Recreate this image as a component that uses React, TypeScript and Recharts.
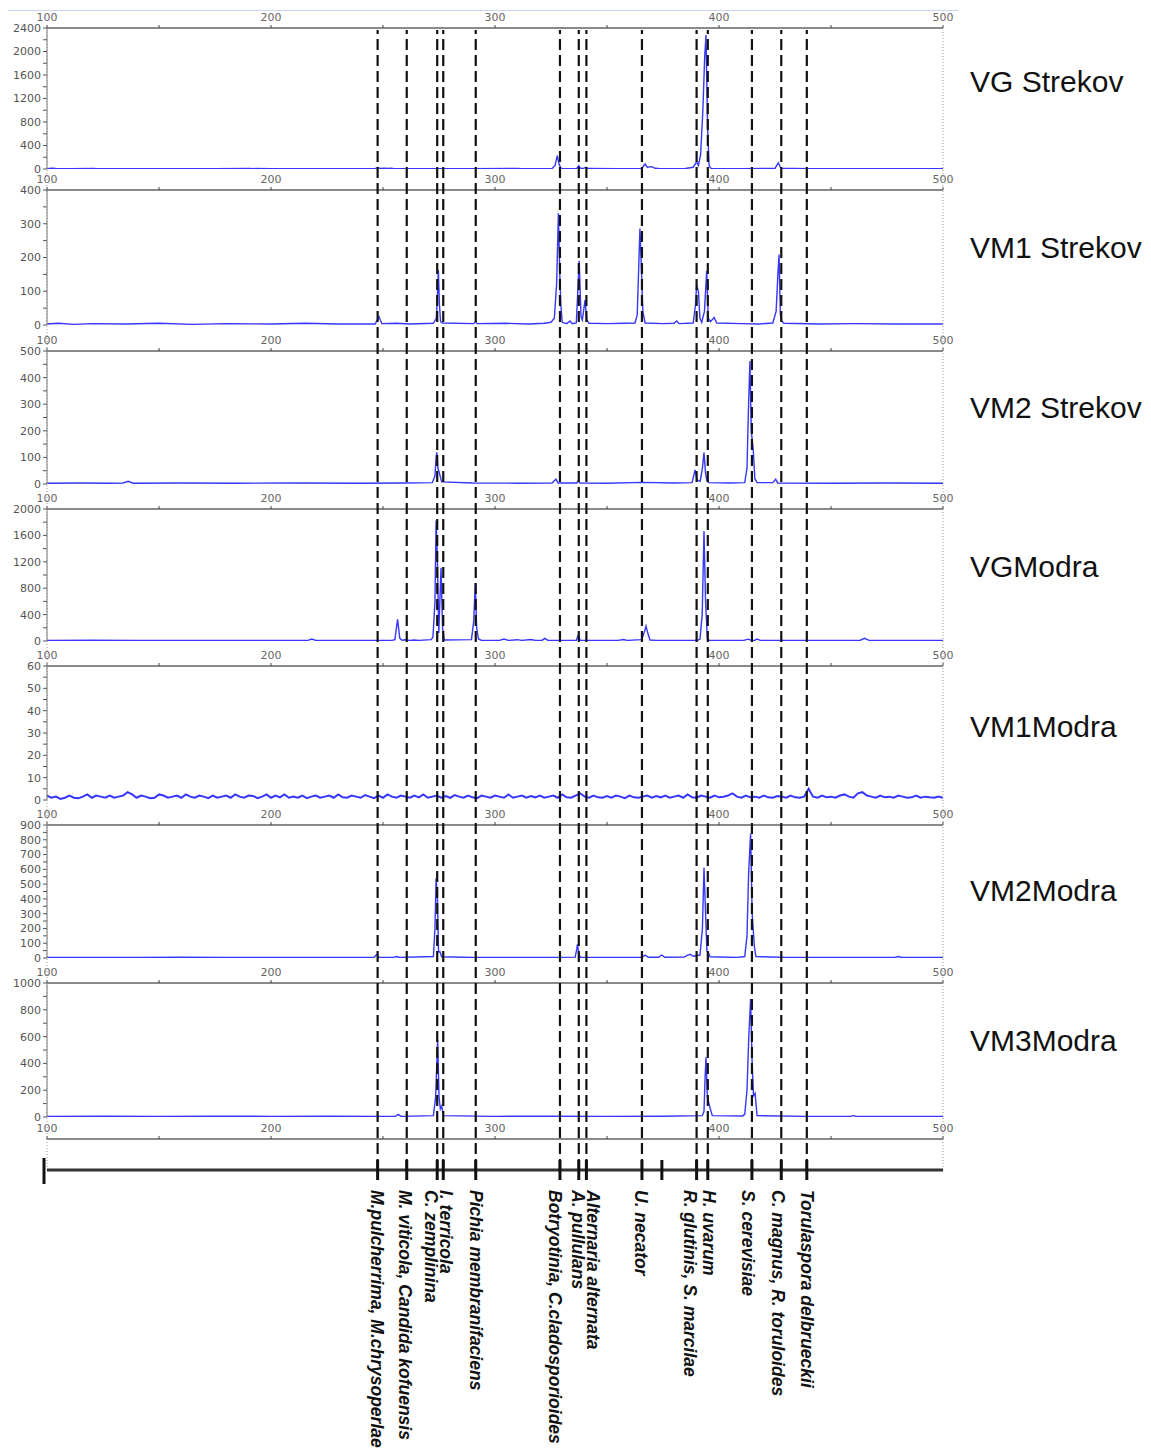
import React from 'react';
import { LineChart, Line, XAxis, YAxis, ReferenceLine } from 'recharts';

// ---------- data ----------
const bpDomain: [number, number] = [100, 500];
const bpTicks = [100, 150, 200, 250, 300, 350, 400, 450, 500];
const bpLabelTicks = [100, 200, 300, 400, 500];

const speciesBp = [247.6, 260.6, 274.2, 276.9, 291.4, 329.0, 337.4, 340.8, 365.6, 390.0, 395.0, 414.7, 427.8, 439.2];
const speciesNames = [
  'M.pulcherrima, M.chrysoperlae',
  'M. viticola, Candida kofuensis',
  'C. zemplinina',
  'I. terricola',
  'Pichia membranifaciens',
  'Botryotinia, C.cladosporioides',
  'A. pullulans',
  'Alternaria alternata',
  'U. necator',
  'R. glutinis, S. marcilae',
  'H. uvarum',
  'S. cerevisiae',
  'C. magnus, R. toruloides',
  'Torulaspora delbrueckii',
];
const extraMarkerBp = [100, 374.5];

const vgStrekov: [number, number][] = [
  [100, 6], [102, 14], [104, 8], [110, 6], [121, 10], [122, 5], [150, 6], [175, 5], [190, 8], [200, 5], [225, 6],
  [246.5, 6], [247.6, 24], [248.8, 8], [250.5, 14], [252, 8], [253.5, 14], [255, 6], [270, 5], [290, 6], [310, 10], [312, 5],
  [325.5, 8], [326.8, 60], [327.8, 226], [328.6, 80], [329.5, 10], [331, 6], [336.5, 8], [337.4, 56], [338.2, 12], [339.5, 10],
  [340.6, 30], [341.5, 8], [355, 6], [365.5, 8], [367, 85], [368, 30], [370, 40], [371.5, 12], [374, 6], [385, 8], [388.5, 30],
  [389.5, 90], [390, 124], [390.8, 60], [391.8, 250], [392.8, 1000], [393.6, 1900], [394.2, 2280], [394.9, 700], [395.6, 50],
  [396.5, 8], [410, 6], [425, 10], [426.5, 107], [427.6, 12], [440, 6], [470, 5], [500, 5],
];

const vm1Strekov: [number, number][] = [
  [100, 3], [105, 5], [112, 2], [120, 4], [135, 3], [150, 5], [165, 2], [180, 4], [200, 3], [215, 5], [230, 3], [246.5, 3],
  [248.2, 25], [249.5, 4], [256, 5], [262, 3], [272.5, 5], [273.8, 20], [274.4, 100], [274.7, 163], [275.2, 60], [275.7, 10],
  [276.5, 6], [290.5, 4], [291.3, 10], [292, 4], [305, 5], [315, 3], [322, 5], [325, 8], [326.5, 20], [327.5, 120], [328.3, 331],
  [328.9, 154], [329.4, 60], [330, 8], [332, 4], [333.5, 12], [334.5, 4], [336.3, 6], [337.6, 190], [338.4, 25], [339, 15],
  [340.2, 74], [341, 15], [342, 5], [350, 4], [358, 5], [362.5, 6], [363.5, 30], [364.2, 180], [364.7, 286], [365.3, 178],
  [366, 40], [367, 6], [375, 4], [380, 5], [381.1, 12], [382.2, 4], [388.5, 6], [389.5, 60], [390, 118], [390.8, 100],
  [391.5, 20], [392.3, 8], [393.5, 40], [394.5, 160], [395.2, 20], [396.2, 10], [397.8, 22], [399, 6], [410, 4], [418, 3],
  [424, 6], [425.5, 40], [426.3, 150], [426.8, 209], [427.4, 30], [428, 12], [429, 5], [445, 3], [460, 4], [480, 3], [500, 3],
];

const vm2Strekov: [number, number][] = [
  [100, 3], [115, 4], [128, 3], [134, 4], [136.2, 10], [138.5, 3], [160, 4], [185, 3], [210, 4], [240, 3], [260, 4],
  [272, 5], [273.2, 30], [273.7, 100], [274, 119], [274.5, 60], [275.4, 34], [276.2, 8], [290, 4], [310, 3], [325.5, 4],
  [327.2, 18], [328.2, 4], [336.5, 4], [337.2, 12], [338, 4], [350, 3], [366, 6], [380, 4], [388, 5], [389.3, 53], [390.2, 15],
  [391.6, 10], [392.6, 60], [393.3, 118], [394, 40], [394.6, 12], [395.5, 5], [405, 4], [411.5, 5], [412.5, 60], [413.2, 300],
  [413.8, 462], [414.4, 200], [415.3, 128], [416, 20], [417, 5], [424, 5], [425.3, 18], [426.2, 4], [450, 3], [475, 4], [500, 3],
];

const vgModra: [number, number][] = [
  [100, 10], [120, 12], [140, 8], [160, 10], [180, 8], [200, 10], [216.5, 10], [218.2, 30], [220, 10], [240, 8], [254, 10],
  [255.3, 20], [256.5, 329], [257.5, 40], [258.5, 12], [260, 18], [262, 10], [264, 16], [266, 10], [271.5, 20], [272.3, 60],
  [273.2, 600], [273.7, 1823], [274.3, 1200], [274.9, 120], [275.9, 1111], [276.6, 200], [277.3, 15], [289.5, 20], [290.5, 300],
  [291.2, 874], [291.8, 200], [292.6, 30], [294, 10], [302, 10], [304, 30], [306, 10], [310, 20], [312, 10], [316, 22], [318, 10],
  [321, 12], [322.3, 40], [323.6, 10], [336.3, 10], [337.2, 90], [338, 12], [355, 10], [357.3, 22], [359, 10], [365.5, 20],
  [366.8, 150], [367.4, 227], [368.2, 120], [369.2, 15], [372, 10], [390.5, 12], [391.5, 30], [392.5, 400], [393.3, 1667],
  [394, 600], [394.8, 40], [395.6, 10], [411, 10], [413, 28], [414.5, 10], [416, 12], [417, 30], [418.5, 10], [440, 10],
  [463, 12], [465, 40], [467, 10], [500, 10],
];

// VM1Modra: hand-read noise, sampled every 2 bp from 100 bp
const vm1ModraStartBp = 100;
const vm1ModraStepBp = 2;
const vm1ModraNoise = [
  2, 1, 1.5, 0.5, 1, 2, 1, 0.8, 1.5, 2.5, 1, 2, 1.5, 1, 2, 1, 1.5, 2, 3.5, 2.5,
  1, 2, 1.5, 0.8, 1, 2.5, 2, 1, 1.5, 2, 1, 2.5, 1.5, 1, 2, 1.5, 0.8, 2, 1, 1.5,
  2, 1, 2.5, 1.5, 1, 2, 1.8, 0.8, 1.5, 2.5, 1, 2, 1.2, 2.5, 1, 1.5, 1, 2, 0.8, 1.5,
  2, 1, 1.5, 2, 1, 2.5, 1.2, 1, 2, 1.5, 1, 2.2, 1.5, 0.8, 2, 1, 2.5, 1.5, 1, 2,
  1.5, 1, 2, 1.2, 2.5, 1, 1.5, 2, 1, 1.8, 1, 2.2, 1.5, 1, 2, 1.2, 0.8, 2, 1.5, 1,
  2, 1.5, 1, 2.5, 1, 1.5, 2, 1, 1.8, 1.2, 2, 1, 1.5, 2, 1, 2.5, 1.2, 1, 2, 3,
  1.5, 1, 2, 1.2, 1, 1.8, 1, 2, 1.5, 0.8, 2, 1.2, 1, 1.5, 2, 1, 1.8, 1.2, 2, 1,
  1.5, 2, 1, 2.5, 1.2, 1, 2, 1.5, 1, 2, 1.2, 1.5, 2, 3, 1.5, 1, 2, 1.2, 1.5, 1,
  2, 1.2, 1, 1.8, 1.5, 1, 2, 1.2, 1, 1.5, 5, 1.5, 1, 2, 1.2, 1.5, 1, 2, 2.5, 1.5,
  1, 3, 3.5, 2, 1.5, 1, 2, 1.2, 1.5, 1, 2, 1.5, 1, 1.2, 2, 1, 1.5, 1.2, 1, 1.5,
  1,
];

const vm2Modra: [number, number][] = [
  [100, 3], [120, 4], [140, 3], [160, 5], [180, 3], [200, 4], [220, 3], [240, 4], [246, 4], [247.2, 25], [248.2, 4],
  [254.5, 4], [256.1, 10], [257.5, 4], [272.5, 10], [273.2, 200], [273.7, 539], [274.3, 400], [274.8, 40], [275.4, 43],
  [276.2, 8], [290, 4], [310, 3], [325, 4], [335.8, 6], [336.5, 60], [336.8, 93], [337.5, 20], [338.2, 5], [360, 4],
  [365.5, 5], [367, 20], [368.5, 5], [373, 5], [374.4, 20], [375.8, 5], [384.5, 6], [386, 20], [387.1, 25], [388.5, 12],
  [391.5, 20], [392.6, 200], [393.3, 611], [394, 300], [394.6, 50], [395.2, 40], [396, 8], [408, 4], [411.5, 10], [412.5, 150],
  [413.2, 560], [414.1, 843], [414.8, 300], [415.8, 76], [416.5, 10], [430, 4], [460, 3], [478.5, 4], [480, 10], [481.5, 4],
  [500, 3],
];

const vm3Modra: [number, number][] = [
  [100, 5], [125, 6], [150, 4], [175, 6], [200, 5], [225, 6], [250, 5], [255.5, 5], [256.8, 20], [258, 5], [272.5, 10],
  [273.5, 150], [274.4, 575], [275, 150], [275.6, 60], [276.2, 82], [277, 10], [300, 5], [325, 6], [350, 5], [375, 6],
  [392.5, 10], [393.3, 40], [393.8, 300], [394.2, 445], [394.8, 150], [396, 67], [397, 10], [410.5, 8], [411.5, 20],
  [412.5, 200], [413.3, 600], [414.1, 880], [414.8, 400], [415.4, 160], [416.1, 177], [417, 10], [440, 5], [458.5, 5],
  [460, 10], [461.5, 5], [500, 5],
];

// ---------- layout ----------
const W = 1151;
const H = 1454;
const PLOT_LEFT = 47;
const PLOT_RIGHT = 943;
const AXIS_H = 20;
const MARKER_AXIS_Y = 1170;
const LINE_BLUE = '#3636ff';
const TICK_FONT = 'DejaVu Sans, Verdana, sans-serif';
const NAME_FONT = 'Liberation Sans, Arial, sans-serif';

const labelNudge = [-1, -2, -6, 3, 0, -5, -1, 7, -1, -7, 1, -4, -3, 0];

type PanelSpec = {
  name: string;
  nameY: number;
  top: number;
  bottom: number;
  yMax: number;
  yStep: number;
  yLabelStep: number;
  points: [number, number][];
  width?: number;
};

const toRows = (pts: [number, number][]) => pts.map(([bp, v]) => ({ bp, v }));

const vm1ModraPoints: [number, number][] = vm1ModraNoise.map((v, i) => [vm1ModraStartBp + i * vm1ModraStepBp, v]);

const panels: PanelSpec[] = [
  { name: 'VG Strekov', nameY: 82, top: 28, bottom: 169, yMax: 2400, yStep: 200, yLabelStep: 400, points: vgStrekov },
  { name: 'VM1 Strekov', nameY: 248, top: 190, bottom: 325, yMax: 400, yStep: 50, yLabelStep: 100, points: vm1Strekov },
  { name: 'VM2 Strekov', nameY: 408, top: 351, bottom: 484, yMax: 500, yStep: 50, yLabelStep: 100, points: vm2Strekov },
  { name: 'VGModra', nameY: 567, top: 509, bottom: 641, yMax: 2000, yStep: 200, yLabelStep: 400, points: vgModra },
  { name: 'VM1Modra', nameY: 727, top: 666, bottom: 800, yMax: 60, yStep: 5, yLabelStep: 10, points: vm1ModraPoints, width: 2 },
  { name: 'VM2Modra', nameY: 891, top: 825, bottom: 958, yMax: 900, yStep: 50, yLabelStep: 100, points: vm2Modra },
  { name: 'VM3Modra', nameY: 1041, top: 983, bottom: 1117, yMax: 1000, yStep: 100, yLabelStep: 200, points: vm3Modra },
];

const makeTicks = (max: number, step: number) => {
  const out: number[] = [];
  for (let v = 0; v <= max + 1e-9; v += step) out.push(v);
  return out;
};

const bpFormatter = (v: number) => (bpLabelTicks.includes(v) ? String(v) : '');

const TopAxis = () => (
  <XAxis
    orientation="top"
    type="number"
    dataKey="bp"
    domain={bpDomain}
    ticks={bpTicks}
    interval={0}
    allowDataOverflow
    tickFormatter={bpFormatter}
    height={AXIS_H}
    tickSize={3}
    tickMargin={4}
    axisLine={{ stroke: '#8a8a8a', strokeWidth: 2 }}
    tickLine={{ stroke: '#444' }}
    tick={{ fontSize: 11, fill: '#666', fontFamily: TICK_FONT }}
  />
);

const Panel = ({ p }: { p: PanelSpec }) => {
  const bottomPad = 8;
  const h = p.bottom - p.top + AXIS_H + bottomPad;
  const yTicks = makeTicks(p.yMax, p.yStep);
  const yFmt = (v: number) => (Math.abs(v / p.yLabelStep - Math.round(v / p.yLabelStep)) < 1e-6 ? String(v) : '');
  return (
    <div style={{ position: 'absolute', left: 0, top: p.top - AXIS_H, width: W, height: h }}>
      <LineChart
        width={W}
        height={h}
        data={toRows(p.points)}
        margin={{ top: 0, right: W - PLOT_RIGHT, bottom: bottomPad, left: 0 }}
      >
        {TopAxis()}
        <YAxis
          type="number"
          domain={[0, p.yMax]}
          ticks={yTicks}
          interval={0}
          allowDataOverflow
          width={PLOT_LEFT}
          tickFormatter={yFmt}
          tickSize={4}
          tickMargin={2}
          axisLine={{ stroke: '#777' }}
          tickLine={{ stroke: '#555' }}
          tick={{ fontSize: 11, fill: '#555', fontFamily: TICK_FONT }}
        />
        <Line
          dataKey="v"
          type="linear"
          stroke={LINE_BLUE}
          strokeWidth={p.width ?? 1.4}
          dot={false}
          activeDot={false}
          isAnimationActive={false}
        />
      </LineChart>
    </div>
  );
};

const markerTicks = [...extraMarkerBp, ...speciesBp].sort((a, b) => a - b);

const SpeciesTick = (props: any) => {
  const { x, y, payload } = props;
  const i = speciesBp.indexOf(payload.value);
  const name = i >= 0 ? speciesNames[i] : '';
  const nudge = i >= 0 ? labelNudge[i] : 0;
  const isEnd = payload.value === 100;
  return (
    <g>
      <line
        x1={isEnd ? x - 3 : x}
        x2={isEnd ? x - 3 : x}
        y1={y - (isEnd ? 12 : 10)}
        y2={y + (isEnd ? 14 : 10)}
        stroke="#111"
        strokeWidth={3}
      />
      {name ? (
        <text
          transform={`translate(${x + nudge},${y + 20}) rotate(90)`}
          dominantBaseline="central"
          fontSize={17.5}
          fontStyle="italic"
          fontWeight="bold"
          fontFamily={NAME_FONT}
          fill="#111"
        >
          {name}
        </text>
      ) : null}
    </g>
  );
};

const overlayRows = [{ bp: 100, y: 0 }, { bp: 500, y: 1 }];

export default function App() {
  return (
    <div
      style={{
        position: 'absolute',
        left: 0,
        top: 0,
        width: W,
        height: H,
        background: '#fff',
        overflow: 'hidden',
      }}
    >
      <div style={{ position: 'absolute', left: 8, top: 10, width: 950, height: 1, background: '#c6d6ee' }} />
      {panels.map((p) => (
        <Panel key={p.name} p={p} />
      ))}
      {/* bottom axis strip */}
      <div style={{ position: 'absolute', left: 0, top: 1139 - AXIS_H, width: W, height: AXIS_H + 12 }}>
        <LineChart
          width={W}
          height={AXIS_H + 12}
          data={overlayRows}
          margin={{ top: 0, right: W - PLOT_RIGHT, bottom: 12, left: PLOT_LEFT }}
        >
          {TopAxis()}
          <YAxis hide domain={[0, 1]} allowDataOverflow />
          <Line dataKey="y" stroke="none" dot={false} activeDot={false} isAnimationActive={false} />
        </LineChart>
      </div>
      {/* species markers overlay */}
      <div style={{ position: 'absolute', left: 0, top: 0, width: W, height: H, pointerEvents: 'none' }}>
        <LineChart
          width={W}
          height={H}
          data={overlayRows}
          margin={{ top: 30, right: W - PLOT_RIGHT, bottom: 0, left: PLOT_LEFT }}
        >
          <XAxis
            type="number"
            dataKey="bp"
            domain={bpDomain}
            ticks={markerTicks}
            interval={0}
            height={H - MARKER_AXIS_Y}
            tickSize={0}
            tickMargin={0}
            tickLine={false}
            axisLine={{ stroke: '#333', strokeWidth: 3 }}
            tick={(props: any) => <SpeciesTick {...props} />}
          />
          <YAxis hide type="number" domain={[0, 1]} allowDataOverflow />
          <Line dataKey="y" stroke="none" dot={false} activeDot={false} isAnimationActive={false} />
          <ReferenceLine x={100} stroke="#999" strokeDasharray="1 2" ifOverflow="visible" />
          <ReferenceLine x={500} stroke="#999" strokeDasharray="1 2" ifOverflow="visible" />
          {speciesBp.map((bp) => (
            <ReferenceLine
              key={bp}
              x={bp}
              stroke="#111"
              strokeWidth={2.2}
              strokeDasharray="11 5"
              ifOverflow="visible"
            />
          ))}
        </LineChart>
      </div>
      {panels.map((p) => (
        <div
          key={'n' + p.name}
          style={{
            position: 'absolute',
            left: 970,
            top: p.nameY - 17,
            height: 34,
            lineHeight: '34px',
            fontSize: 30,
            fontFamily: NAME_FONT,
            color: '#111',
            whiteSpace: 'nowrap',
          }}
        >
          {p.name}
        </div>
      ))}
    </div>
  );
}
